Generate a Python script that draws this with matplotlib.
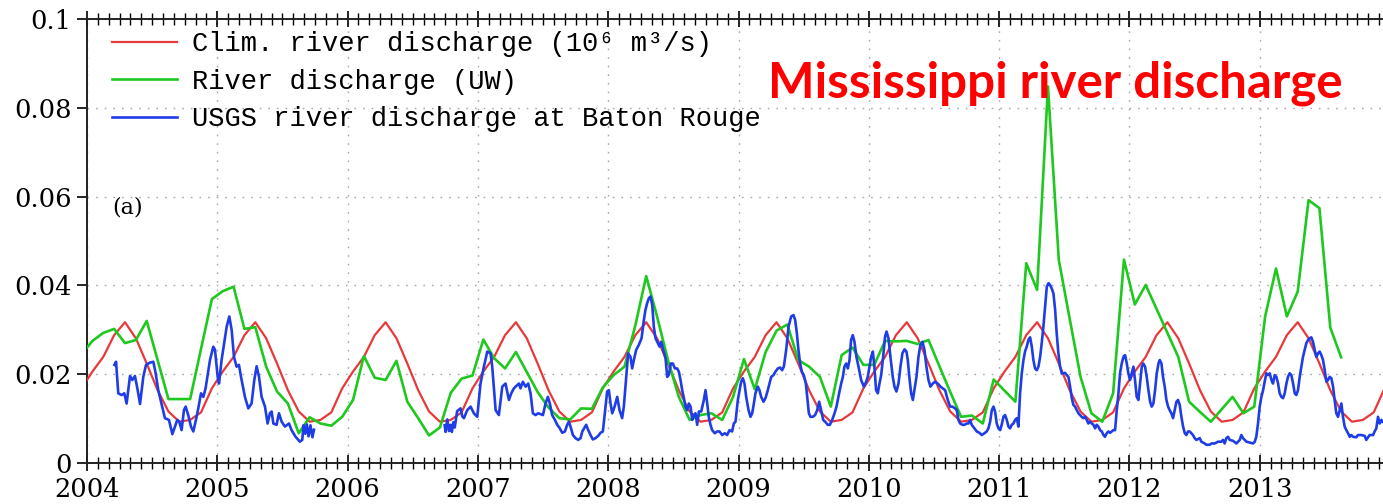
import numpy as np
import matplotlib
matplotlib.use("Agg")
import matplotlib.pyplot as plt
from matplotlib.ticker import MultipleLocator, FuncFormatter

# ---------------------------------------------------------------------------
# Data (units: 10^6 m^3/s)
# ---------------------------------------------------------------------------
# Monthly climatology, Jan..Dec (mid-month values)
clim_monthly = [0.0206, 0.0239, 0.0288, 0.0317, 0.0281, 0.0224,
                0.0164, 0.0116, 0.0093, 0.0097, 0.0114, 0.0168]
clim_years = list(range(2003, 2015))

# UW monthly river discharge, starting Dec 2003 (mid-month values)
uw_start = (2003, 12)
uw_monthly = [
    0.0245,
    # 2004
    0.0275, 0.0293, 0.0302, 0.0270, 0.0277, 0.0320,
    0.0232, 0.0144, 0.0144, 0.0144, 0.0257, 0.0369,
    # 2005
    0.0387, 0.0397, 0.0302, 0.0306, 0.0217, 0.0161,
    0.0134, 0.0067, 0.0103, 0.0089, 0.0084, 0.0104,
    # 2006
    0.0142, 0.0241, 0.0192, 0.0187, 0.0230, 0.0138,
    0.0101, 0.0062, 0.0080, 0.0158, 0.0190, 0.0197,
    # 2007
    0.0278, 0.0236, 0.0213, 0.0250, 0.0205, 0.0160,
    0.0125, 0.0101, 0.0098, 0.0123, 0.0122, 0.0170,
    # 2008
    0.0198, 0.0217, 0.0310, 0.0421, 0.0330, 0.0232,
    0.0149, 0.0097, 0.0108, 0.0112, 0.0097, 0.0149,
    # 2009
    0.0234, 0.0166, 0.0250, 0.0298, 0.0312, 0.0232,
    0.0217, 0.0194, 0.0127, 0.0243, 0.0260, 0.0221,
    # 2010
    0.0221, 0.0275, 0.0274, 0.0275, 0.0268, 0.0277,
    0.0218, 0.0160, 0.0104, 0.0107, 0.0089, 0.0188,
    # 2011
    0.0163, 0.0138, 0.0450, 0.0390, 0.0848, 0.0457,
    0.0325, 0.0194, 0.0112, 0.0093, 0.0157, 0.0458,
    # 2012
    0.0357, 0.0401, 0.0347, 0.0293, 0.0239, 0.0138,
    0.0115, 0.0093, 0.0121, 0.0149, 0.0112, 0.0127,
    # 2013
    0.0330, 0.0438, 0.0330, 0.0386, 0.0592, 0.0574,
    0.0305, 0.0238,
]

# USGS discharge at Baton Rouge (decimal year, value)
usgs_time = [
    2004.210, 2004.223, 2004.240, 2004.266, 2004.286, 2004.304, 2004.330,
    2004.348, 2004.368, 2004.389, 2004.407, 2004.432, 2004.453, 2004.483,
    2004.509, 2004.527, 2004.547, 2004.598, 2004.629, 2004.655, 2004.675,
    2004.693, 2004.708, 2004.726, 2004.744, 2004.757, 2004.777, 2004.798,
    2004.816, 2004.836, 2004.854, 2004.875, 2004.893, 2004.910, 2004.944,
    2004.969, 2004.982, 2005.003, 2005.013, 2005.033, 2005.072, 2005.092,
    2005.110, 2005.128, 2005.148, 2005.166, 2005.182, 2005.212, 2005.238,
    2005.263, 2005.284, 2005.302, 2005.320, 2005.340, 2005.366, 2005.386,
    2005.404, 2005.417, 2005.430, 2005.455, 2005.473, 2005.494, 2005.519,
    2005.550, 2005.570, 2005.601, 2005.634, 2005.652, 2005.662, 2005.675,
    2005.687, 2005.700, 2005.715, 2005.730, 2005.742,
    # resumes late 2006
    2006.745, 2006.752, 2006.765, 2006.778, 2006.790, 2006.800, 2006.812,
    2006.822, 2006.841, 2006.867, 2006.880, 2006.893, 2006.918, 2006.944,
    2006.969, 2006.995, 2007.020, 2007.046, 2007.072, 2007.097, 2007.110,
    2007.136, 2007.161, 2007.187, 2007.212, 2007.238, 2007.256, 2007.276,
    2007.289, 2007.315, 2007.327, 2007.345, 2007.366, 2007.386, 2007.404,
    2007.422, 2007.442, 2007.463, 2007.481, 2007.499, 2007.519, 2007.537,
    2007.552, 2007.570, 2007.591, 2007.609, 2007.629, 2007.647, 2007.668,
    2007.685, 2007.698, 2007.711, 2007.729, 2007.749, 2007.770, 2007.788,
    2007.801, 2007.831, 2007.847, 2007.864, 2007.882, 2007.903, 2007.923,
    2007.941, 2007.959, 2007.980, 2007.992, 2008.005, 2008.018, 2008.031,
    2008.049, 2008.069, 2008.087, 2008.107, 2008.120, 2008.138, 2008.153,
    2008.171, 2008.184, 2008.197, 2008.215, 2008.235, 2008.256, 2008.274,
    2008.286, 2008.299, 2008.312, 2008.325, 2008.338, 2008.350, 2008.363,
    2008.376, 2008.394, 2008.407, 2008.422, 2008.440, 2008.453, 2008.465,
    2008.481, 2008.496, 2008.512, 2008.529, 2008.542, 2008.555, 2008.568,
    2008.581, 2008.593, 2008.606, 2008.619, 2008.632, 2008.645, 2008.657,
    2008.670, 2008.683, 2008.696, 2008.714, 2008.734, 2008.747, 2008.760,
    2008.772, 2008.785, 2008.798, 2008.818, 2008.836, 2008.854, 2008.875,
    2008.895, 2008.913, 2008.931, 2008.951, 2008.964, 2008.977,
    2008.995, 2009.008, 2009.020, 2009.033, 2009.046, 2009.059, 2009.077,
    2009.092, 2009.105, 2009.118, 2009.130, 2009.148, 2009.161, 2009.174,
    2009.192, 2009.207, 2009.225, 2009.238, 2009.251, 2009.269, 2009.284,
    2009.302, 2009.320, 2009.335, 2009.348, 2009.366, 2009.384, 2009.404,
    2009.422, 2009.435, 2009.448, 2009.460, 2009.473, 2009.486, 2009.501,
    2009.517, 2009.527, 2009.540, 2009.552, 2009.570, 2009.588, 2009.604,
    2009.619, 2009.634, 2009.650, 2009.665, 2009.685, 2009.701, 2009.719,
    2009.737, 2009.752, 2009.762, 2009.777, 2009.788, 2009.801, 2009.813,
    2009.826, 2009.839, 2009.852, 2009.864, 2009.877, 2009.890, 2009.905,
    2009.921, 2009.941, 2009.962, 2009.980, 2009.992, 2010.005, 2010.018,
    2010.031, 2010.043, 2010.056, 2010.069, 2010.082, 2010.095, 2010.110,
    2010.125, 2010.136, 2010.151, 2010.166, 2010.184, 2010.197, 2010.212,
    2010.228, 2010.243, 2010.258, 2010.274, 2010.289, 2010.299, 2010.312,
    2010.325, 2010.338, 2010.350, 2010.366, 2010.381, 2010.396, 2010.412,
    2010.427, 2010.442, 2010.458, 2010.473, 2010.491, 2010.509, 2010.529,
    2010.550, 2010.568,
    2010.586, 2010.606, 2010.624, 2010.642, 2010.662, 2010.675, 2010.688,
    2010.701, 2010.719, 2010.734, 2010.752, 2010.765, 2010.777, 2010.790,
    2010.811, 2010.829, 2010.849, 2010.867, 2010.887, 2010.905, 2010.918,
    2010.931, 2010.944, 2010.957, 2010.969, 2010.982, 2010.995, 2011.008,
    2011.020, 2011.033, 2011.046, 2011.059, 2011.072, 2011.084, 2011.097,
    2011.110, 2011.123, 2011.136, 2011.148, 2011.161, 2011.174, 2011.187,
    2011.199, 2011.212, 2011.225, 2011.238, 2011.251, 2011.263, 2011.276,
    2011.289, 2011.302, 2011.315, 2011.327, 2011.340, 2011.353, 2011.366,
    2011.379, 2011.391, 2011.404, 2011.417, 2011.430, 2011.442, 2011.455,
    2011.468, 2011.481, 2011.494, 2011.506, 2011.519, 2011.532, 2011.545,
    2011.558, 2011.570, 2011.583, 2011.596, 2011.609, 2011.621, 2011.634,
    2011.647, 2011.660, 2011.673, 2011.685, 2011.698, 2011.711, 2011.724,
    2011.737, 2011.749, 2011.762, 2011.775, 2011.788, 2011.801, 2011.813,
    2011.826, 2011.839, 2011.852, 2011.864, 2011.877, 2011.890, 2011.903,
    2011.916, 2011.928, 2011.941, 2011.954, 2011.967, 2011.980, 2011.992,
    2012.005, 2012.018, 2012.031, 2012.043, 2012.056, 2012.069, 2012.082,
    2012.095, 2012.107, 2012.120, 2012.133, 2012.146, 2012.159, 2012.171,
    2012.184, 2012.197, 2012.210, 2012.223,
    2012.233, 2012.246, 2012.258, 2012.271, 2012.284, 2012.297, 2012.309,
    2012.322, 2012.335, 2012.348, 2012.361, 2012.373, 2012.386, 2012.399,
    2012.412, 2012.425, 2012.437, 2012.450, 2012.463, 2012.476, 2012.488,
    2012.501, 2012.514, 2012.540, 2012.552, 2012.578, 2012.591, 2012.616,
    2012.629, 2012.655, 2012.680, 2012.706, 2012.719, 2012.731, 2012.744,
    2012.757, 2012.770, 2012.795, 2012.821, 2012.847, 2012.859, 2012.872,
    2012.898, 2012.923, 2012.949, 2012.962, 2012.974, 2012.987, 2013.000,
    2013.013, 2013.026, 2013.038, 2013.051, 2013.064, 2013.077, 2013.090,
    2013.102, 2013.115, 2013.128, 2013.141, 2013.153, 2013.166, 2013.179,
    2013.192, 2013.205, 2013.217, 2013.230, 2013.243, 2013.256, 2013.269,
    2013.281, 2013.294, 2013.307, 2013.320, 2013.332, 2013.345, 2013.358,
    2013.371, 2013.384, 2013.396, 2013.409, 2013.422, 2013.435, 2013.448,
    2013.460, 2013.473, 2013.486, 2013.499, 2013.512, 2013.524, 2013.537,
    2013.550, 2013.563, 2013.575, 2013.588, 2013.601, 2013.614, 2013.627,
    2013.639, 2013.652, 2013.665, 2013.678, 2013.691, 2013.703, 2013.716,
    2013.742, 2013.754, 2013.780, 2013.806, 2013.818, 2013.844, 2013.870,
    2013.882, 2013.895, 2013.908, 2013.921, 2013.934, 2013.944,
]
usgs_value = [
    0.0221, 0.0228, 0.0157, 0.0153, 0.0157, 0.0134, 0.0196,
    0.0187, 0.0196, 0.0164, 0.0133, 0.0194, 0.0221, 0.0226,
    0.0228, 0.0202, 0.0164, 0.0101, 0.0097, 0.0065, 0.0082,
    0.0097, 0.0093, 0.0074, 0.0119, 0.0127, 0.0108, 0.0082,
    0.0071, 0.0097, 0.0123, 0.0157, 0.0149, 0.0168, 0.0232,
    0.0262, 0.0255, 0.0194, 0.0179, 0.0232, 0.0307, 0.0330,
    0.0300, 0.0239, 0.0217, 0.0221, 0.0194, 0.0149, 0.0123,
    0.0134, 0.0187, 0.0218, 0.0194, 0.0149, 0.0127, 0.0089,
    0.0112, 0.0116, 0.0089, 0.0086, 0.0112, 0.0093, 0.0082,
    0.0089, 0.0074, 0.0059, 0.0048, 0.0052, 0.0085, 0.0066,
    0.0087, 0.0060, 0.0085, 0.0058, 0.0075,
    # resumes late 2006
    0.0085, 0.0070, 0.0098, 0.0072, 0.0086, 0.0070, 0.0092,
    0.0080, 0.0117, 0.0123, 0.0105, 0.0101, 0.0119, 0.0127,
    0.0112, 0.0104, 0.0179, 0.0217, 0.0251, 0.0247, 0.0217,
    0.0119, 0.0108, 0.0172, 0.0179, 0.0142, 0.0157, 0.0168,
    0.0172, 0.0179, 0.0168, 0.0183, 0.0172, 0.0179, 0.0157,
    0.0112, 0.0108, 0.0112, 0.0110, 0.0108, 0.0134, 0.0149,
    0.0134, 0.0108, 0.0097, 0.0086, 0.0078, 0.0068, 0.0071,
    0.0086, 0.0093, 0.0082, 0.0063, 0.0056, 0.0052, 0.0056,
    0.0071, 0.0086, 0.0074, 0.0063, 0.0053, 0.0056, 0.0061,
    0.0068, 0.0071, 0.0127, 0.0161, 0.0164, 0.0134, 0.0112,
    0.0127, 0.0149, 0.0119, 0.0101, 0.0127, 0.0194, 0.0247,
    0.0239, 0.0213, 0.0232, 0.0255, 0.0266, 0.0281, 0.0322,
    0.0345, 0.0360, 0.0371, 0.0375, 0.0356, 0.0307, 0.0281,
    0.0273, 0.0262, 0.0273, 0.0255, 0.0236, 0.0194, 0.0198,
    0.0224, 0.0224, 0.0213, 0.0213, 0.0206, 0.0187, 0.0164,
    0.0146, 0.0127, 0.0119, 0.0134, 0.0127, 0.0097, 0.0108,
    0.0112, 0.0086, 0.0116, 0.0116, 0.0142, 0.0164, 0.0134,
    0.0104, 0.0086, 0.0074, 0.0067, 0.0071, 0.0071, 0.0063,
    0.0067, 0.0063, 0.0074, 0.0071, 0.0089, 0.0093,
    0.0142, 0.0164, 0.0183, 0.0191, 0.0179, 0.0149, 0.0119,
    0.0104, 0.0112, 0.0134, 0.0157, 0.0172, 0.0164, 0.0149,
    0.0138, 0.0146, 0.0164, 0.0179, 0.0194, 0.0198, 0.0206,
    0.0213, 0.0215, 0.0209, 0.0217, 0.0255, 0.0307, 0.0330,
    0.0333, 0.0322, 0.0292, 0.0255, 0.0224, 0.0206, 0.0198,
    0.0179, 0.0149, 0.0112, 0.0104, 0.0104, 0.0108, 0.0119,
    0.0138, 0.0119, 0.0097, 0.0093, 0.0086, 0.0086, 0.0097,
    0.0112, 0.0127, 0.0142, 0.0164, 0.0179, 0.0194, 0.0217,
    0.0224, 0.0213, 0.0232, 0.0277, 0.0288, 0.0273, 0.0239,
    0.0217, 0.0187, 0.0172, 0.0183, 0.0194, 0.0217, 0.0239,
    0.0251, 0.0217, 0.0164, 0.0157, 0.0179, 0.0198, 0.0239,
    0.0285, 0.0296, 0.0281, 0.0239, 0.0194, 0.0172, 0.0161,
    0.0179, 0.0217, 0.0247, 0.0256, 0.0251, 0.0232, 0.0191,
    0.0157, 0.0142, 0.0164, 0.0194, 0.0239, 0.0266, 0.0273,
    0.0255, 0.0217, 0.0187, 0.0172, 0.0179, 0.0183, 0.0179,
    0.0172, 0.0168,
    0.0164, 0.0142, 0.0127, 0.0127, 0.0123, 0.0119, 0.0097,
    0.0089, 0.0086, 0.0086, 0.0089, 0.0089, 0.0097, 0.0086,
    0.0078, 0.0071, 0.0068, 0.0063, 0.0067, 0.0071, 0.0078,
    0.0093, 0.0119, 0.0127, 0.0116, 0.0089, 0.0078, 0.0074,
    0.0086, 0.0104, 0.0108, 0.0097, 0.0082, 0.0078, 0.0086,
    0.0089, 0.0097, 0.0101, 0.0082, 0.0157, 0.0202, 0.0232,
    0.0251, 0.0262, 0.0277, 0.0283, 0.0262, 0.0232, 0.0213,
    0.0209, 0.0217, 0.0239, 0.0270, 0.0307, 0.0352, 0.0397,
    0.0405, 0.0401, 0.0393, 0.0382, 0.0345, 0.0292, 0.0247,
    0.0217, 0.0202, 0.0202, 0.0203, 0.0198, 0.0194, 0.0172,
    0.0146, 0.0131, 0.0127, 0.0119, 0.0112, 0.0108, 0.0104,
    0.0101, 0.0104, 0.0097, 0.0089, 0.0093, 0.0089, 0.0086,
    0.0078, 0.0086, 0.0082, 0.0074, 0.0071, 0.0063, 0.0059,
    0.0067, 0.0071, 0.0068, 0.0071, 0.0074, 0.0074, 0.0119,
    0.0157, 0.0202, 0.0224, 0.0239, 0.0243, 0.0224, 0.0202,
    0.0187, 0.0202, 0.0217, 0.0187, 0.0149, 0.0142, 0.0179,
    0.0217, 0.0224, 0.0217, 0.0194, 0.0164, 0.0138, 0.0127,
    0.0134, 0.0164, 0.0202, 0.0224,
    0.0232, 0.0224, 0.0194, 0.0172, 0.0142, 0.0127, 0.0119,
    0.0112, 0.0101, 0.0119, 0.0138, 0.0142, 0.0131, 0.0104,
    0.0082, 0.0067, 0.0063, 0.0071, 0.0071, 0.0067, 0.0063,
    0.0056, 0.0052, 0.0056, 0.0048, 0.0044, 0.0041, 0.0041,
    0.0044, 0.0044, 0.0048, 0.0048, 0.0052, 0.0044, 0.0056,
    0.0059, 0.0052, 0.0050, 0.0044, 0.0052, 0.0063, 0.0056,
    0.0048, 0.0046, 0.0044, 0.0048, 0.0059, 0.0089, 0.0127,
    0.0149, 0.0164, 0.0183, 0.0202, 0.0198, 0.0202, 0.0187,
    0.0179, 0.0198, 0.0194, 0.0179, 0.0157, 0.0149, 0.0146,
    0.0157, 0.0179, 0.0194, 0.0202, 0.0198, 0.0179, 0.0157,
    0.0153, 0.0164, 0.0194, 0.0217, 0.0239, 0.0255, 0.0270,
    0.0277, 0.0281, 0.0283, 0.0273, 0.0255, 0.0239, 0.0247,
    0.0251, 0.0243, 0.0232, 0.0209, 0.0183, 0.0187, 0.0194,
    0.0191, 0.0172, 0.0142, 0.0112, 0.0104, 0.0119, 0.0134,
    0.0104, 0.0082, 0.0074, 0.0067, 0.0059, 0.0063, 0.0059,
    0.0058, 0.0063, 0.0063, 0.0061, 0.0052, 0.0063, 0.0063,
    0.0071, 0.0078, 0.0104, 0.0089, 0.0097, 0.0093,
]

year_labels = [str(y) for y in range(2004, 2014)]
y_ticks = [0, 0.02, 0.04, 0.06, 0.08, 0.1]

legend_labels = ["Clim. river discharge (10\u2076 m\u00b3/s)",
                 "River discharge (UW)",
                 "USGS river discharge at Baton Rouge"]
title_text = "Mississippi river discharge"

# ---------------------------------------------------------------------------
# Series construction
# ---------------------------------------------------------------------------
clim_t = np.array([y + (m + 0.5) / 12.0 for y in clim_years for m in range(12)])
clim_v = np.tile(clim_monthly, len(clim_years))

uw_t = np.array([uw_start[0] + (uw_start[1] - 1 + k + 0.5) / 12.0
                 for k in range(len(uw_monthly))])
uw_v = np.array(uw_monthly)

bt = np.array(usgs_time)
bv = np.array(usgs_value, dtype=float)
# break the line where the record has a long gap
gap = np.where(np.diff(bt) > 0.3)[0]
bt = np.insert(bt, gap + 1, np.nan)
bv = np.insert(bv, gap + 1, np.nan)

# ---------------------------------------------------------------------------
# Figure
# ---------------------------------------------------------------------------
W, H = 1383, 504
fig = plt.figure(figsize=(W / 100, H / 100), dpi=100)
px_per_year = 130.3
ax = fig.add_axes([87 / W, 41 / H, 10 * px_per_year / W, 444 / H])

RED = "#e8393a"
GREEN = "#1ec81e"
BLUE = "#1f3de6"

ax.plot(clim_t, clim_v, color=RED, lw=1.6, label=legend_labels[0], zorder=3)
ax.plot(uw_t, uw_v, color=GREEN, lw=1.9, label=legend_labels[1], zorder=4)
ax.plot(bt, bv, color=BLUE, lw=1.9, label=legend_labels[2], zorder=5)

ax.set_xlim(2004, 2014)
ax.set_ylim(0, 0.1)

# ticks
ax.xaxis.set_minor_locator(MultipleLocator(1 / 12))
ax.set_xticks(range(2004, 2014))
ax.set_xticklabels(year_labels)
ax.set_yticks(y_ticks)
ax.yaxis.set_major_formatter(FuncFormatter(lambda v, p: f"{v:g}"))

for lab in ax.get_xticklabels() + ax.get_yticklabels():
    lab.set_fontfamily("DejaVu Serif")
    lab.set_fontsize(18.5)

ax.tick_params(axis="x", which="major", direction="inout", length=12, width=1.2,
               top=True, bottom=True, pad=4, colors="black")
ax.tick_params(axis="x", which="minor", direction="inout", length=8, width=1.0,
               top=True, bottom=True)
ax.tick_params(axis="y", which="major", direction="out", length=7, width=1.2,
               pad=4, left=True, right=False)

for side in ("left", "bottom", "top", "right"):
    ax.spines[side].set_linewidth(1.4)
    ax.spines[side].set_color("#222222")

# dotted grid at the major ticks
ax.grid(True, which="major", color="#a8a8a8", linestyle=(0, (1.2, 5)), lw=1.0)
ax.set_axisbelow(True)

# legend
leg = ax.legend(loc="upper left", bbox_to_anchor=(25 / (10 * px_per_year), 0.972),
                frameon=False, borderpad=0, borderaxespad=0,
                handlelength=2.4, handletextpad=0.55, labelspacing=0.42,
                prop={"family": ["Liberation Mono", "DejaVu Sans Mono"], "size": 19.5})

ax.text(25 / (10 * px_per_year), 0.575, "(a)", transform=ax.transAxes,
        fontsize=16, family="DejaVu Serif", va="center", ha="left")

fig.text(1055 / W, 1 - 97 / H, title_text, color="#ff0000", fontsize=35.5,
         fontweight="bold", family="Lato", ha="center", va="baseline")

fig.savefig("out.png", dpi=100)
